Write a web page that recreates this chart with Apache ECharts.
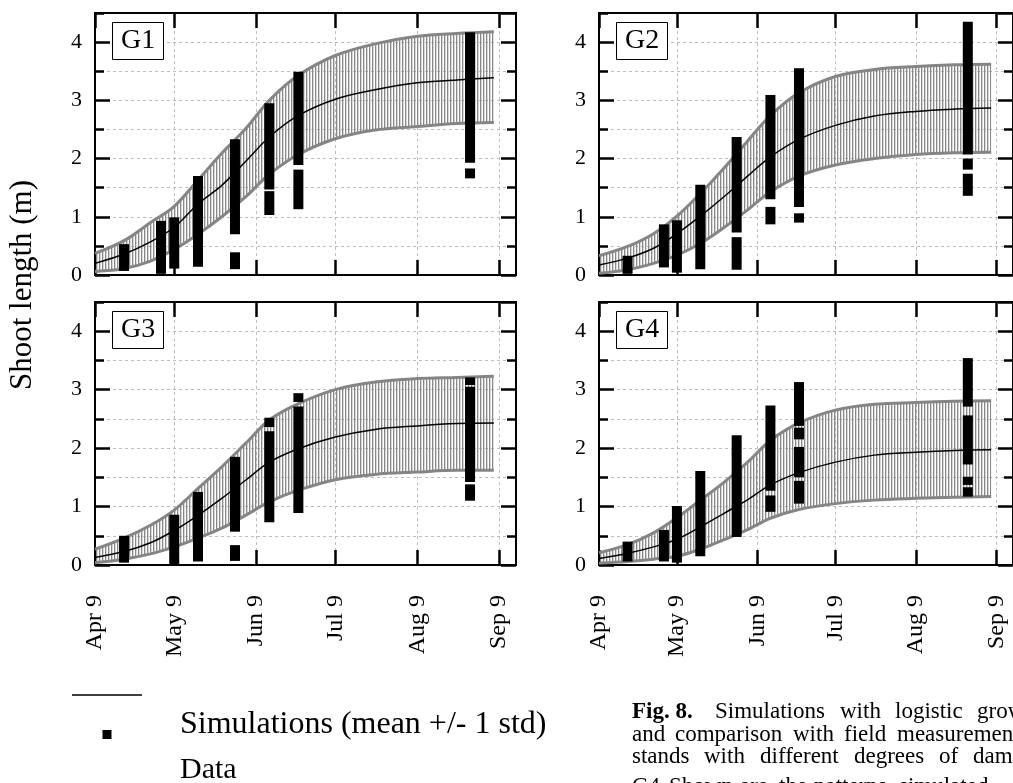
<!DOCTYPE html>
<html>
<head>
<meta charset="utf-8">
<title>Shoot length simulations G1-G4</title>
<script src="https://cdn.jsdelivr.net/npm/echarts@6.0.0/dist/echarts.min.js"></script>
<style>
  html, body { margin: 0; padding: 0; background: #fff; }
  #chart { width: 1013px; height: 783px; }
</style>
</head>
<body>
<div id="chart"></div>
<script>
// dates are turned into days counted from Apr 9
const tickLabels = ['Apr 9', 'May 9', 'Jun 9', 'Jul 9', 'Aug 9', 'Sep 9'];
const yTicks = [0, 1, 2, 3, 4];
const simDates = ['Apr 9', 'Apr 20', 'Apr 30', 'May 9', 'May 18', 'May 27', 'Jun 5',
  'Jun 14', 'Jun 25', 'Jul 9', 'Jul 24', 'Aug 9', 'Aug 24', 'Sep 7'];

// simulations: mean, mean + 1 std, mean - 1 std (m)
const g1Mean  = [0.20, 0.36, 0.57, 0.82, 1.22, 1.54, 1.95, 2.37, 2.74, 3.02, 3.18, 3.30, 3.35, 3.39];
const g1Upper = [0.37, 0.59, 0.90, 1.18, 1.63, 2.09, 2.51, 3.00, 3.43, 3.77, 3.97, 4.10, 4.15, 4.18];
const g1Lower = [0.06, 0.11, 0.24, 0.44, 0.70, 1.00, 1.34, 1.73, 2.07, 2.34, 2.49, 2.55, 2.60, 2.62];

const g2Mean  = [0.17, 0.29, 0.46, 0.71, 1.01, 1.34, 1.69, 2.03, 2.33, 2.57, 2.73, 2.81, 2.85, 2.87];
const g2Upper = [0.33, 0.49, 0.71, 1.01, 1.40, 1.83, 2.29, 2.74, 3.13, 3.41, 3.53, 3.58, 3.61, 3.62];
const g2Lower = [0.03, 0.09, 0.20, 0.34, 0.54, 0.81, 1.11, 1.43, 1.70, 1.89, 2.00, 2.07, 2.10, 2.11];

const g3Mean  = [0.13, 0.23, 0.38, 0.59, 0.85, 1.14, 1.45, 1.76, 1.99, 2.19, 2.32, 2.38, 2.42, 2.43];
const g3Upper = [0.27, 0.46, 0.68, 0.94, 1.31, 1.68, 2.08, 2.48, 2.76, 3.00, 3.13, 3.19, 3.21, 3.23];
const g3Lower = [0.04, 0.10, 0.19, 0.31, 0.46, 0.63, 0.85, 1.08, 1.28, 1.46, 1.55, 1.59, 1.62, 1.62];

const g4Mean  = [0.11, 0.20, 0.31, 0.44, 0.65, 0.88, 1.11, 1.37, 1.58, 1.76, 1.88, 1.93, 1.96, 1.97];
const g4Upper = [0.21, 0.35, 0.55, 0.81, 1.11, 1.41, 1.75, 2.13, 2.43, 2.65, 2.75, 2.78, 2.80, 2.81];
const g4Lower = [0.03, 0.06, 0.10, 0.15, 0.27, 0.43, 0.60, 0.80, 0.95, 1.05, 1.11, 1.14, 1.16, 1.17];

// field data: runs of overlapping measurements [date, lowest, highest] (m)
const g1Data = [
  ['Apr 20', 0.07, 0.53], ['May 4', 0.02, 0.93], ['May 9', 0.11, 0.99], ['May 18', 0.14, 1.70],
  ['Jun 1', 0.70, 2.33], ['Jun 1', 0.10, 0.39], ['Jun 14', 1.47, 2.95], ['Jun 14', 1.03, 1.44],
  ['Jun 25', 1.89, 3.49], ['Jun 25', 1.13, 1.81], ['Aug 29', 1.93, 4.17], ['Aug 29', 1.66, 1.83]
];
const g2Data = [
  ['Apr 20', 0.02, 0.33], ['May 4', 0.13, 0.87], ['May 9', 0.04, 0.94], ['May 18', 0.10, 1.55],
  ['Jun 1', 0.73, 2.37], ['Jun 1', 0.09, 0.65], ['Jun 14', 1.30, 3.09], ['Jun 14', 0.87, 1.17],
  ['Jun 25', 1.17, 3.55], ['Jun 25', 0.90, 1.06], ['Aug 29', 2.07, 4.35], ['Aug 29', 1.81, 2.00],
  ['Aug 29', 1.36, 1.74]
];
const g3Data = [
  ['Apr 20', 0.04, 0.50], ['May 9', 0.00, 0.86], ['May 18', 0.06, 1.25], ['Jun 1', 0.57, 1.85],
  ['Jun 1', 0.07, 0.34], ['Jun 14', 0.73, 2.29], ['Jun 14', 2.36, 2.52], ['Jun 25', 0.89, 2.71],
  ['Jun 25', 2.79, 2.94], ['Aug 29', 3.08, 3.21], ['Aug 29', 1.42, 3.05], ['Aug 29', 1.10, 1.38]
];
const g4Data = [
  ['Apr 20', 0.06, 0.40], ['May 4', 0.06, 0.60], ['May 9', 0.04, 1.01], ['May 18', 0.15, 1.61],
  ['Jun 1', 0.48, 2.22], ['Jun 14', 1.27, 2.73], ['Jun 14', 0.91, 1.19], ['Jun 25', 2.38, 3.13],
  ['Jun 25', 2.15, 2.35], ['Jun 25', 1.50, 2.02], ['Jun 25', 1.05, 1.44], ['Aug 29', 2.71, 3.54],
  ['Aug 29', 1.72, 2.56], ['Aug 29', 1.37, 1.51], ['Aug 29', 1.17, 1.33]
];

const panels = [
  { name: 'G1', mean: g1Mean, upper: g1Upper, lower: g1Lower, data: g1Data },
  { name: 'G2', mean: g2Mean, upper: g2Upper, lower: g2Lower, data: g2Data },
  { name: 'G3', mean: g3Mean, upper: g3Upper, lower: g3Lower, data: g3Data },
  { name: 'G4', mean: g4Mean, upper: g4Upper, lower: g4Lower, data: g4Data }
];

const MONTHS = { Apr: 3, May: 4, Jun: 5, Jul: 6, Aug: 7, Sep: 8 };
function toDay(s) {
  const [m, d] = s.split(' ');
  return Math.round((Date.UTC(2001, MONTHS[m], +d) - Date.UTC(2001, 3, 9)) / 864e5);
}
const tickDays = tickLabels.map(toDay);
const simDays = simDates.map(toDay);

const SERIF = "'Liberation Serif', 'Times New Roman', serif";
const grids = [
  { left: 95, top: 13, width: 421, height: 262 },
  { left: 599, top: 13, width: 421, height: 262 },
  { left: 95, top: 302, width: 421, height: 263 },
  { left: 599, top: 302, width: 421, height: 263 }
];

function hatch() {
  const c = document.createElement('canvas');
  c.width = 3; c.height = 2;
  const ctx = c.getContext('2d');
  ctx.fillStyle = '#888888';
  ctx.fillRect(0, 0, 1, 2);
  ctx.fillStyle = 'rgba(140,140,140,0.35)';
  ctx.fillRect(1, 0, 1, 2);
  return { image: c, repeat: 'repeat' };
}
const hatchColor = hatch();

const blackLine = { show: true, onZero: false, lineStyle: { color: '#000', width: 2 } };
const dashed = { type: [3, 3], color: '#bdbdbd', width: 1 };

const xAxis = [], yAxis = [], series = [], title = [];
grids.forEach((g, i) => {
  ['bottom', 'top'].forEach(pos => {
    xAxis.push({
      type: 'value', gridIndex: i, position: pos, min: 0, max: 159.4,
      axisLine: blackLine,
      axisTick: { show: true, inside: true, length: 15, customValues: tickDays,
        lineStyle: { color: '#000', width: 2.5 } },
      axisLabel: {
        show: pos === 'bottom' && i >= 2, customValues: tickDays, rotate: 90, margin: 30,
        fontSize: 24, fontFamily: SERIF, color: '#000',
        formatter: v => tickLabels[tickDays.indexOf(Math.round(v))] || ''
      },
      splitLine: { show: pos === 'bottom', lineStyle: dashed }
    });
  });
  ['left', 'right'].forEach(pos => {
    // integer ticks (long, labelled)
    yAxis.push({
      type: 'value', gridIndex: i, position: pos, min: 0, max: 4.5, interval: 1,
      axisLine: blackLine,
      axisTick: { show: true, inside: true, length: 15, lineStyle: { color: '#000', width: 2.5 } },
      axisLabel: { show: pos === 'left', showMaxLabel: false, margin: 13, fontSize: 22,
        fontFamily: SERIF, color: '#000',
        formatter: v => yTicks.includes(v) ? String(v) : '' },
      splitLine: { show: false }
    });
    // half ticks (short) with the dashed grid
    yAxis.push({
      type: 'value', gridIndex: i, position: pos, min: 0, max: 4.5, interval: 0.5,
      axisLine: blackLine,
      axisTick: { show: true, inside: true, length: 9, lineStyle: { color: '#000', width: 2.5 } },
      axisLabel: { show: false },
      splitLine: { show: pos === 'left', lineStyle: dashed }
    });
  });
  const p = panels[i];
  const xi = 2 * i, yi = 4 * i;
  const base = { xAxisIndex: xi, yAxisIndex: yi, type: 'line', symbol: 'none', smooth: 0.35, silent: true };
  // the band rows are [value, day]: with two value axes ECharts stacks the first
  // numeric column, so the value goes first and encode maps it back to y
  series.push(Object.assign({}, base, {
    name: p.name + ' low', stack: 'band' + i, lineStyle: { opacity: 0 },
    encode: { x: 1, y: 0 },
    data: simDays.map((d, k) => [p.lower[k], d])
  }));
  series.push(Object.assign({}, base, {
    name: p.name + ' band', stack: 'band' + i, lineStyle: { opacity: 0 },
    encode: { x: 1, y: 0 },
    areaStyle: { color: hatchColor, opacity: 1 },
    data: simDays.map((d, k) => [+(p.upper[k] - p.lower[k]).toFixed(3), d])
  }));
  [p.upper, p.lower].forEach(arr => {
    series.push(Object.assign({}, base, {
      name: p.name + ' edge', lineStyle: { color: '#858585', width: 3 },
      data: simDays.map((d, k) => [d, arr[k]])
    }));
  });
  series.push(Object.assign({}, base, {
    name: p.name + ' mean', lineStyle: { color: '#000', width: 1.5 }, z: 3,
    data: simDays.map((d, k) => [d, p.mean[k]])
  }));
  series.push({
    name: p.name + ' data', type: 'custom', xAxisIndex: xi, yAxisIndex: yi, z: 4, silent: true,
    encode: { x: 0, y: [1, 2] },
    data: p.data.map(r => [toDay(r[0]), r[1], r[2]]),
    renderItem: (params, api) => {
      const top = api.coord([api.value(0), api.value(2)]);
      const bot = api.coord([api.value(0), api.value(1)]);
      return { type: 'rect', shape: { x: top[0] - 5, y: top[1], width: 10, height: bot[1] - top[1] },
        style: { fill: '#000' } };
    }
  });
  title.push({
    text: p.name, left: g.left + 17, top: g.top + 9,
    borderColor: '#000', borderWidth: 1, backgroundColor: '#fff', padding: [5, 9],
    textStyle: { fontSize: 28, fontWeight: 'normal', fontFamily: SERIF, color: '#000' }
  });
});

// caption lines, words placed as in the justified paragraph
function words(list, y, font) {
  return list.map(w => ({ type: 'text', x: w[1], y: y,
    style: { text: w[0], font: font || '23px ' + SERIF, fill: '#000', verticalAlign: 'middle' } }));
}
const caption = [].concat(
  words([['Fig. 8.', 632]], 712, 'bold 23px ' + SERIF),
  words([['Simulations', 715], ['with', 840], ['logistic', 895], ['growth', 977]], 712),
  words([['and', 632], ['comparison', 675], ['with', 793], ['field', 844], ['measurements', 897]], 734.5),
  words([['stands', 632], ['with', 704], ['different', 760], ['degrees', 854], ['of', 939], ['damage', 973]], 757),
  words([['G4.', 632], ['Shown', 669], ['are', 740], ['the', 779], ['patterns', 814], ['simulated', 899]], 787)
);

const chart = echarts.init(document.getElementById('chart'), null, { renderer: 'canvas' });
chart.setOption({
  animation: false,
  backgroundColor: '#fff',
  title: title,
  grid: grids,
  xAxis: xAxis,
  yAxis: yAxis,
  series: series,
  graphic: [
    { type: 'text', x: 23, y: 285, rotation: Math.PI / 2,
      style: { text: 'Shoot length (m)', font: '31px ' + SERIF, fill: '#000', align: 'center', verticalAlign: 'middle' } },
    { type: 'line', shape: { x1: 72, y1: 695, x2: 142, y2: 695 }, style: { stroke: '#000', lineWidth: 1.5 } },
    { type: 'rect', shape: { x: 102.5, y: 730, width: 9, height: 9 }, style: { fill: '#000' } },
    { type: 'text', x: 180, y: 725, style: { text: 'Simulations (mean +/- 1 std)', font: '32px ' + SERIF, fill: '#000', verticalAlign: 'middle' } },
    { type: 'text', x: 180, y: 770, style: { text: 'Data', font: '30px ' + SERIF, fill: '#000', verticalAlign: 'middle' } }
  ].concat(caption)
});
</script>
</body>
</html>
